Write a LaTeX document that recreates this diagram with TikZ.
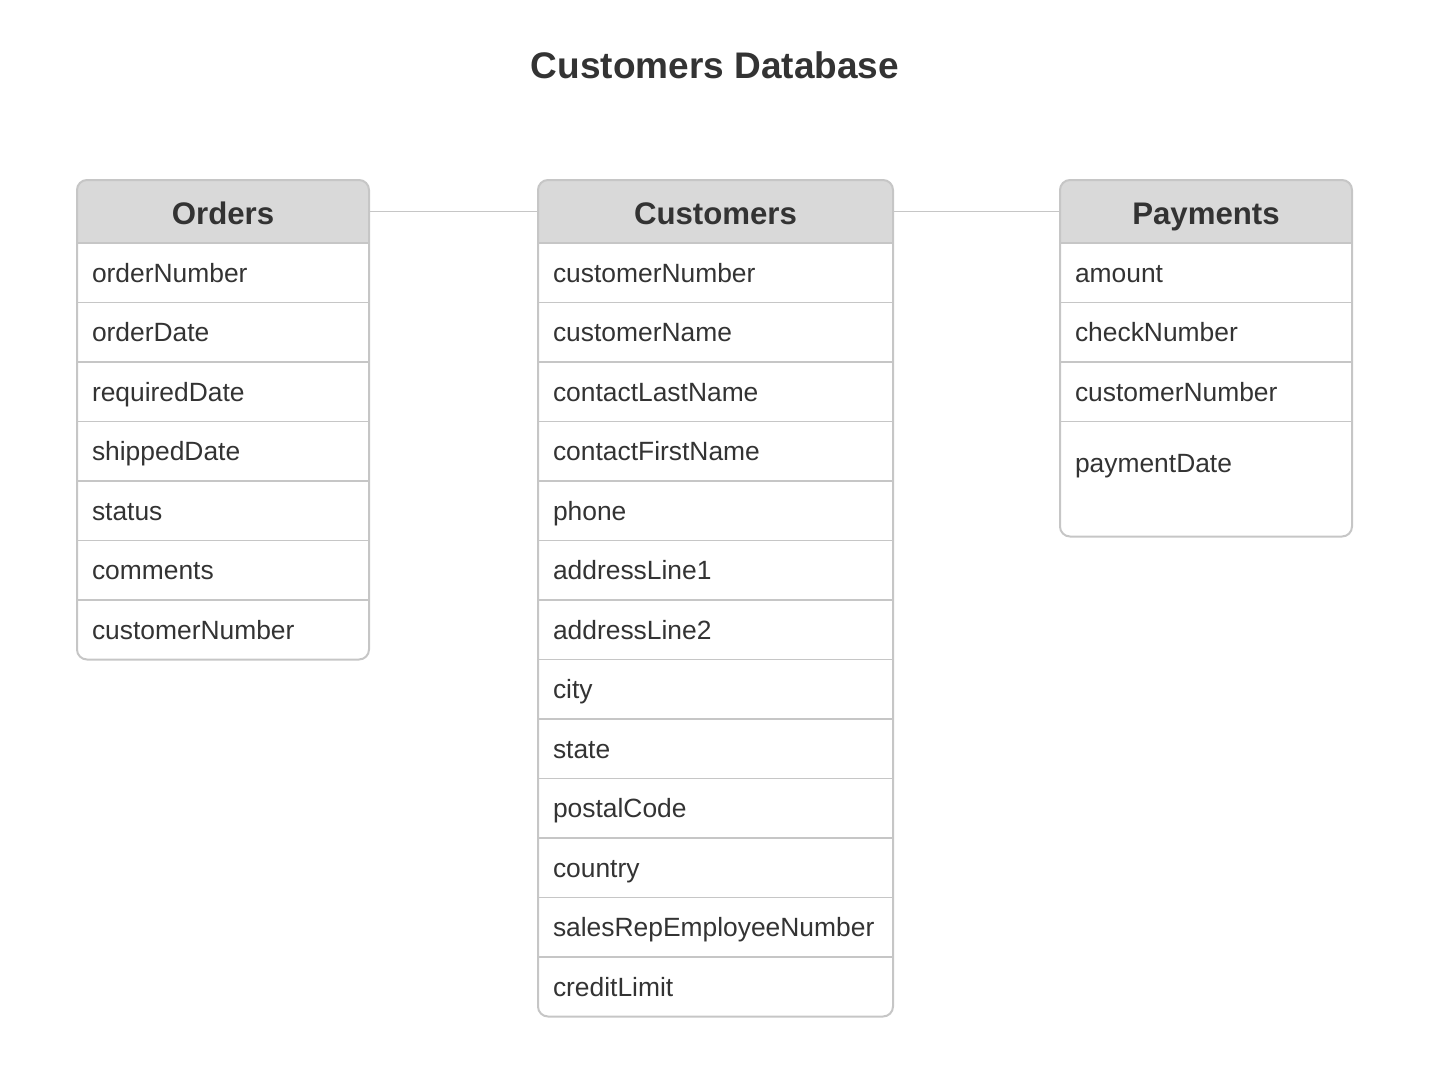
\documentclass[tikz,border=0pt]{standalone}
\usepackage{fontspec}
\setmainfont{Liberation Sans}
\usetikzlibrary{positioning,backgrounds}

\definecolor{ink}{HTML}{333333}
\definecolor{rule}{HTML}{C6C6C6}
\definecolor{headfill}{HTML}{D9D9D9}

\tikzset{
  tbl/.style={draw=rule, line width=1pt, rounded corners=5pt},
  sep/.style={draw=rule, line width=0.8pt},
  link/.style={draw=rule, line width=0.9pt},
  title/.style={font=\fontsize{18.5}{22}\selectfont\bfseries, text=ink, text height=13.3pt, text depth=0pt, inner sep=0pt},
  head/.style={anchor=north, minimum height=31.5pt, inner sep=0pt, outer sep=0pt, text height=14pt, text depth=1.5pt,
    font=\fontsize{15.6}{18}\selectfont\bfseries, text=ink,
    append after command={(\tikzlastnode.south west) edge[sep] (\tikzlastnode.south east)}},
  cell/.style={minimum height=29.75pt, inner xsep=7.5pt, inner ysep=0pt, outer sep=0pt, align=left,
    text height=12pt, text depth=2.5pt, font=\fontsize{13.2}{15}\selectfont, text=ink},
  row/.style={cell, append after command={(\tikzlastnode.south west) edge[sep] (\tikzlastnode.south east)}}
}

\begin{document}
\begin{tikzpicture}[x=0.5pt, y=-0.5pt]
  \useasboundingbox (0,0) rectangle (1446,1070);

  \node[title] (ttl) at (715,65) {Customers Database};

  % Orders
  \node[head, minimum width=146pt] (oh) at (223,180) {Orders};
  \node[row, text width=131pt, below=0pt of oh] (o1) {orderNumber};
  \node[row, text width=131pt, below=0pt of o1] (o2) {orderDate};
  \node[row, text width=131pt, below=0pt of o2] (o3) {requiredDate};
  \node[row, text width=131pt, below=0pt of o3] (o4) {shippedDate};
  \node[row, text width=131pt, below=0pt of o4] (o5) {status};
  \node[row, text width=131pt, below=0pt of o5] (o6) {comments};
  \node[cell, text width=131pt, below=0pt of o6] (o7) {customerNumber};

  % Customers
  \node[head, minimum width=177.5pt] (ch) at (715.5,180) {Customers};
  \node[row, text width=162.5pt, below=0pt of ch] (c1) {customerNumber};
  \node[row, text width=162.5pt, below=0pt of c1] (c2) {customerName};
  \node[row, text width=162.5pt, below=0pt of c2] (c3) {contactLastName};
  \node[row, text width=162.5pt, below=0pt of c3] (c4) {contactFirstName};
  \node[row, text width=162.5pt, below=0pt of c4] (c5) {phone};
  \node[row, text width=162.5pt, below=0pt of c5] (c6) {addressLine1};
  \node[row, text width=162.5pt, below=0pt of c6] (c7) {addressLine2};
  \node[row, text width=162.5pt, below=0pt of c7] (c8) {city};
  \node[row, text width=162.5pt, below=0pt of c8] (c9) {state};
  \node[row, text width=162.5pt, below=0pt of c9] (c10) {postalCode};
  \node[row, text width=162.5pt, below=0pt of c10] (c11) {country};
  \node[row, text width=162.5pt, below=0pt of c11] (c12) {salesRepEmployeeNumber};
  \node[cell, text width=162.5pt, below=0pt of c12] (c13) {creditLimit};

  % Payments
  \node[head, minimum width=146pt] (ph) at (1206,180) {Payments};
  \node[row, text width=131pt, below=0pt of ph] (p1) {amount};
  \node[row, text width=131pt, below=0pt of p1] (p2) {checkNumber};
  \node[row, text width=131pt, below=0pt of p2] (p3) {customerNumber};
  \node[cell, text width=131pt, minimum height=41.5pt, below=0pt of p3] (p4) {paymentDate};
  \coordinate (pend) at ([yshift=-16pt]p4.south east);

  \begin{scope}[on background layer]
    \foreach \h in {oh,ch,ph} {
      \fill[headfill, rounded corners=5pt] (\h.north west) rectangle (\h.south east);
      \fill[headfill] (\h.west) rectangle (\h.south east);
    }
  \end{scope}

  \draw[tbl] (oh.north west) rectangle (o7.south east);
  \draw[tbl] (ch.north west) rectangle (c13.south east);
  \draw[tbl] (ph.north west) rectangle (pend);

  \draw[link] (oh.east) -- (ch.west);
  \draw[link] (ch.east) -- (ph.west);
\end{tikzpicture}
\end{document}
